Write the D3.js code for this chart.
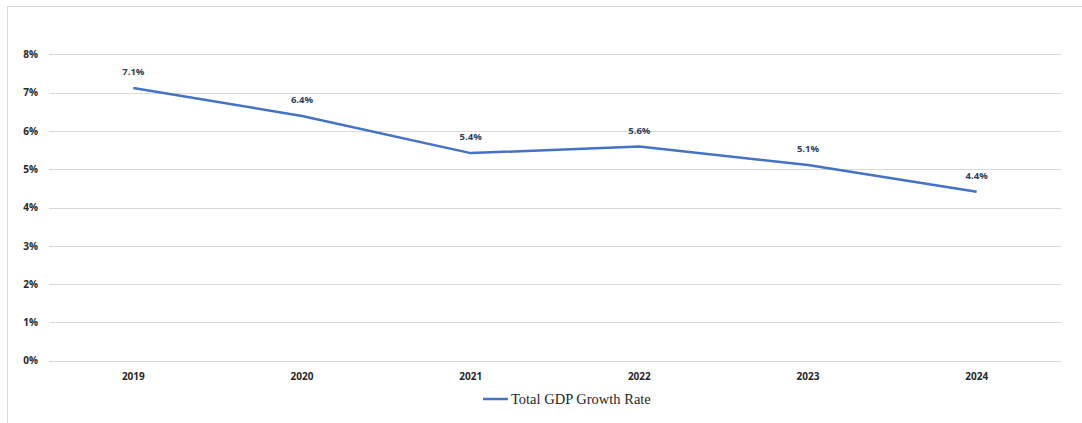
<!DOCTYPE html>
<html><head><meta charset="utf-8">
<script src="https://cdn.jsdelivr.net/npm/d3@7"></script>
<style>body{margin:0;background:#fff;}svg{display:block;}</style>
</head><body>
<svg id="chart" width="1082" height="423"></svg>
<script>
const years = ["2019","2020","2021","2022","2023","2024"];
const growth = [7.12, 6.39, 5.42, 5.59, 5.11, 4.41];
const yTicks = [0,1,2,3,4,5,6,7,8];
const seriesName = "Total GDP Growth Rate";

const svg = d3.select("#chart");
svg.append("rect").attr("x",7.5).attr("y",6.5).attr("width",1100).attr("height",450)
  .attr("fill","none").attr("stroke","#d9d9d9").attr("stroke-width",1);

const x = d3.scaleBand().domain(years).range([49,1061]);
const y = d3.scaleLinear().domain([0,8]).range([360.7,54.3]);

const grid = svg.append("g");
grid.selectAll("line").data(yTicks).join("line")
  .attr("x1",49).attr("x2",1061)
  .attr("y1",d=>Math.round(y(d))+0.5).attr("y2",d=>Math.round(y(d))+0.5)
  .attr("stroke","#d9d9d9").attr("stroke-width",1);

const yAxis = d3.axisLeft(y).tickValues(yTicks).tickFormat(d=>d+"%").tickSize(0).tickPadding(0);
const gy = svg.append("g").attr("transform","translate(38,0)").call(yAxis);
gy.select(".domain").remove();
gy.selectAll("text").attr("font-family","'Open Sans', sans-serif").attr("font-weight","bold")
  .attr("font-size","10px").attr("fill","#262626");

const xAxis = d3.axisBottom(x).tickSize(0).tickPadding(0);
const gx = svg.append("g").attr("transform","translate(0,373)").call(xAxis);
gx.select(".domain").remove();
gx.selectAll("text").attr("font-family","'Open Sans', sans-serif").attr("font-weight","bold")
  .attr("font-size","10px").attr("fill","#262626");

const line = d3.line().x((d,i)=>x(years[i])+x.bandwidth()/2).y(d=>y(d));
svg.append("path").datum(growth).attr("d",line).attr("fill","none")
  .attr("stroke","#4472C4").attr("stroke-width",2.5).attr("stroke-linejoin","round");

svg.append("g").selectAll("text").data(growth).join("text")
  .attr("x",(d,i)=>x(years[i])+x.bandwidth()/2)
  .attr("y",d=>y(d)-13)
  .attr("text-anchor","middle")
  .attr("font-family","'Open Sans', sans-serif").attr("font-weight","bold")
  .attr("font-size","9.5px").attr("fill","#2E3C5E")
  .text(d=>d.toFixed(1)+"%");

const lg = svg.append("g");
lg.append("line").attr("x1",483).attr("x2",508).attr("y1",399).attr("y2",399)
  .attr("stroke","#4472C4").attr("stroke-width",2.5);
lg.append("text").attr("x",511).attr("y",404).attr("font-family","'Liberation Serif', serif")
  .attr("font-size","14.5px").attr("fill","#262626").text(seriesName);
</script>
</body></html>
